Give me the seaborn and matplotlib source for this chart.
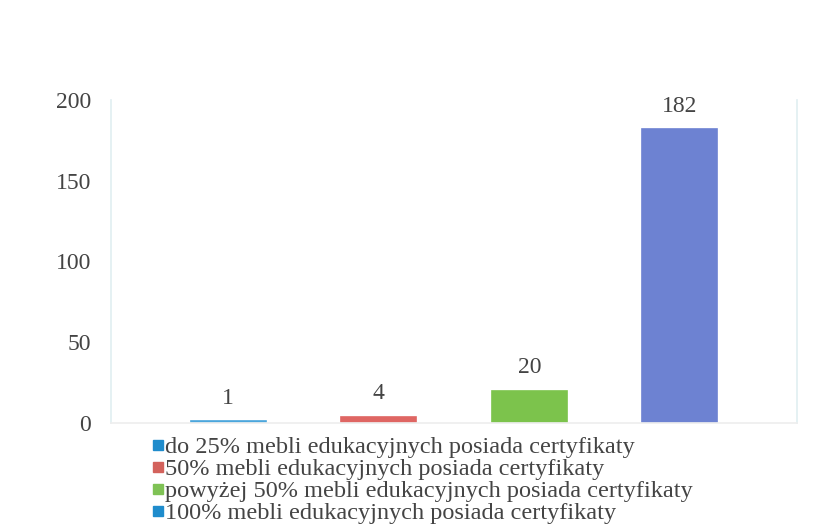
import matplotlib
matplotlib.use("Agg")
import matplotlib.pyplot as plt
import seaborn as sns
import pandas as pd
from matplotlib.lines import Line2D

categories = ["do 25% mebli edukacyjnych posiada certyfikaty",
              "50% mebli edukacyjnych posiada certyfikaty",
              "powyżej 50% mebli edukacyjnych posiada certyfikaty",
              "100% mebli edukacyjnych posiada certyfikaty"]
values = [1, 4, 20, 182]
bar_colors = ["#4ba6dc", "#df6663", "#7cc34c", "#6d82d2"]
legend_colors = ["#1f8ccc", "#d3625c", "#7fc255", "#1f8ccc"]
yticks = [0, 50, 100, 150, 200]

sns.set_theme(style="white")
plt.rcParams["font.family"] = ["Liberation Serif", "DejaVu Serif"]

df = pd.DataFrame({"cat": categories, "val": values})

fig = plt.figure(figsize=(8.27, 5.31), dpi=100)
ax = fig.add_axes([0.134, 0.2034, 0.83, 0.6083])
sns.barplot(data=df, x="cat", y="val", hue="cat", palette=bar_colors,
            width=0.5, legend=False, ax=ax, saturation=1)
for p, c in zip(ax.patches, bar_colors):
    p.set_edgecolor(c)
    p.set_linewidth(1.2)
ax.set_xlim(-0.78, 3.78)
ax.set_ylim(0, 200)
ax.set_yticks(yticks)
ax.set_yticklabels([str(t) for t in yticks], fontsize=17, color="#444444")
ax.tick_params(axis="y", length=0, pad=14)
ax.set_xticks([])
ax.set_xlabel("")
ax.set_ylabel("")
ax.spines["top"].set_visible(False)
ax.spines["left"].set_color("#e2eff2")
ax.spines["right"].set_color("#e2eff2")
ax.spines["bottom"].set_color("#eeeeee")

for i, v in enumerate(values):
    ax.annotate(str(v), (i, v), xytext=(0, 9), textcoords="offset points",
                ha="center", va="bottom", fontsize=17, color="#444444",
                annotation_clip=False)

handles = [Line2D([0], [0], marker="s", linestyle="none", markersize=7.5,
                  markerfacecolor=c, markeredgecolor=c) for c in legend_colors]
fig.legend(handles, categories, loc="upper left",
           bbox_to_anchor=(153 / 827, 1 - 436 / 531), frameon=False,
           fontsize=17.5, labelcolor="#444444", handletextpad=0.05,
           handlelength=0.45, labelspacing=0.0, borderaxespad=0, borderpad=0)

fig.savefig("out.png", dpi=100)
